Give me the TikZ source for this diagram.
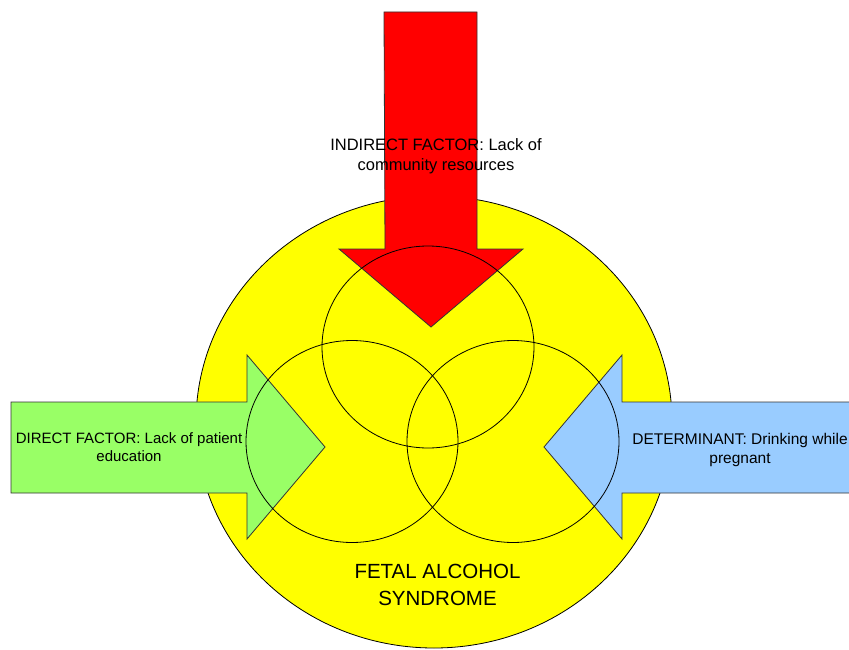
\documentclass[tikz,border=0pt]{standalone}
\usepackage{fontspec}
\setmainfont{Liberation Sans}
\usetikzlibrary{positioning}
\definecolor{fasyellow}{RGB}{255,255,0}
\definecolor{fasred}{RGB}{255,0,0}
\definecolor{fasgreen}{RGB}{153,255,102}
\definecolor{fasblue}{RGB}{153,204,255}
\tikzset{
  block arrow/.style={draw=black!80, line width=.8pt, line join=miter},
  venn/.style={draw=black, line width=.8pt},
  factor text/.style={align=center, inner sep=0pt,
    font=\fontsize{15.5}{19}\selectfont},
}

\begin{document}
\begin{tikzpicture}[x=1pt,y=-1pt]
          \useasboundingbox (0,0) rectangle (849,650);
          \clip (0,0) rectangle (849,650);

          \coordinate (fas) at (434,422);
          \coordinate (c1) at (428,347);
          \coordinate (c2) at (352,441.5);
          \coordinate (c3) at (513,441.5);

          % big circle
          \draw[fill=fasyellow, line width=.8pt] (fas) ellipse [x radius=238, y radius=226];

          % arrows
          \draw[block arrow, fill=fasred] (384,12) -- ++(93,0) -- ++(0,237)
          -- ++(46,0) -- ++(-92,78) -- ++(-92,-78) -- ++(46,0) -- cycle;
          \draw[block arrow, fill=fasgreen] (11,402) -- ++(236,0) -- ++(0,-47)
          -- ++(78,92) -- ++(-78,92) -- ++(0,-46) -- ++(-236,0) -- cycle;
          \draw[block arrow, fill=fasblue] (880,402) -- ++(-258,0) -- ++(0,-47)
          -- ++(-78,92) -- ++(78,92) -- ++(0,-46) -- ++(258,0) -- cycle;

          \foreach \i in {1,2,3}{
            \draw[venn] (c\i) ellipse [x radius=106, y radius=101];
          }

          \node[factor text, font=\fontsize{16.5}{20.5}\selectfont] (indirect) at (436,156)
          {INDIRECT FACTOR: Lack of\\community resources};
          \node[factor text, font=\fontsize{15}{18.5}\selectfont] (direct) at (129,447)
          {DIRECT FACTOR: Lack of patient\\education};
          \node[factor text] (determinant) at (740,450)
          {DETERMINANT: Drinking while\\pregnant};
          \node[align=center, inner sep=0pt, font=\fontsize{20.5}{27}\selectfont]
          (syndrome) at (437.5,585) {FETAL ALCOHOL\\SYNDROME};

        \end{tikzpicture}
\end{document}
